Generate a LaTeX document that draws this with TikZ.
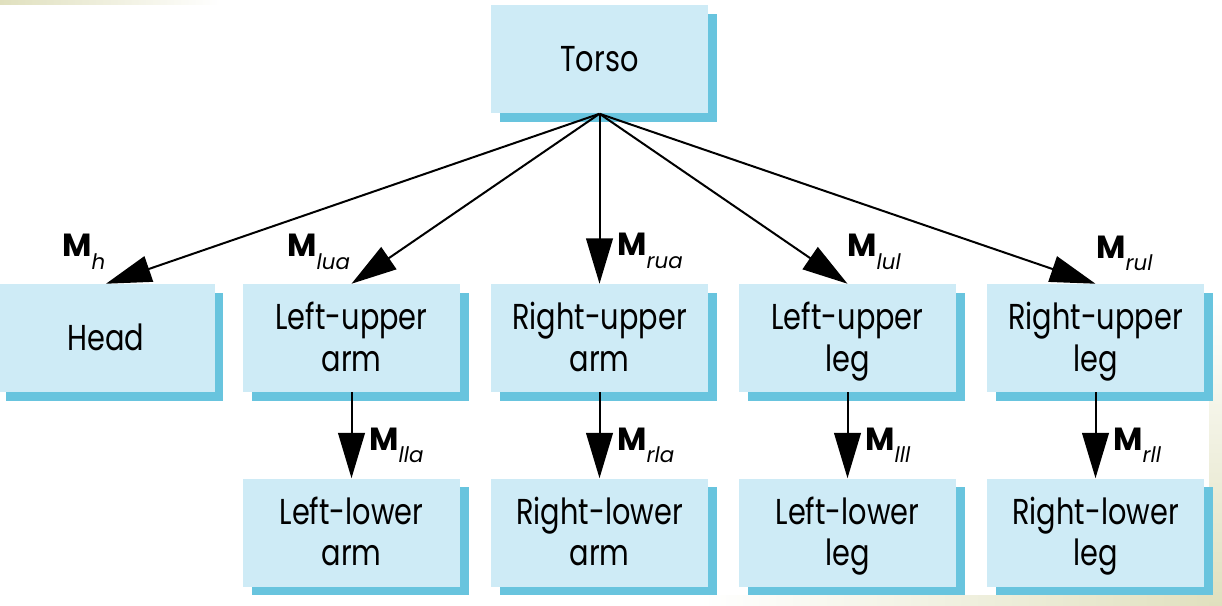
\documentclass[tikz,border=0pt]{standalone}
\usepackage{fontspec}
\usepackage{xcolor}
\usepackage{tikz}
\usetikzlibrary{arrows.meta,shadows}
\setmainfont{Poppins}[FakeStretch=0.8]
\newfontfamily\matfont{Poppins}
\definecolor{partfill}{RGB}{206,235,246}
\definecolor{partshadow}{RGB}{104,196,222}
\definecolor{bgbeige}{RGB}{224,224,190}
\newcommand{\tmat}[1]{{\matfont\fontsize{24}{25}\selectfont\bfseries M}\raisebox{-9.5pt}{\matfont\fontsize{16}{17}\selectfont\itshape #1}}
\newcommand{\tall}{\rule{0pt}{26pt}}
\tikzset{
  part/.style={fill=partfill, minimum width=162.75pt, minimum height=81pt, inner sep=0pt, align=center,
    font=\fontsize{27}{31}\selectfont, execute at end node={\vphantom{g}},
    drop shadow={shadow xshift=6.5pt, shadow yshift=-6.5pt, fill=partshadow, opacity=1}},
  link/.style={line width=1.5pt, -{Triangle[length=34pt,width=20pt]}},
  matlabel/.style={inner sep=0pt, anchor=base west}
}
\begin{document}
\begin{tikzpicture}[x=0.75pt,y=0.75pt,yscale=-1,xscale=1]
\useasboundingbox (0,0) rectangle (1222,606);
%background edges
\shade [left color=bgbeige, right color=white] (0,0) rectangle (220,5);
\shade [left color=white, right color=bgbeige] (700,595) rectangle (1222,606);
\shade [top color=white, bottom color=bgbeige] (1209,300) rectangle (1222,606);

% Parts
\node [part] (torso) at (599.5,59.5) {\tall Torso};
\node [part] (head) at (106,338) {\tall Head};
\node [part] (lua) at (351.5,338) {\tall Left-upper\\arm};
\node [part] (rua) at (599.5,338) {\tall Right-upper\\arm};
\node [part] (lul) at (847.5,338) {\tall Left-upper\\leg};
\node [part] (rul) at (1095.5,338) {\tall Right-upper\\leg};
\node [part] (lla) at (351.5,532.5) {\tall Left-lower\\arm};
\node [part] (rla) at (599.5,532.5) {\tall Right-lower\\arm};
\node [part] (lll) at (847.5,532.5) {\tall Left-lower\\leg};
\node [part] (rll) at (1095.5,532.5) {\tall Right-lower\\leg};

% Links
\draw [link] (torso.south) -- (head.north);
\draw [link] (torso.south) -- (lua.north);
\draw [link] (torso.south) -- (rua.north);
\draw [link] (torso.south) -- (lul.north);
\draw [link] (torso.south) -- (rul.north);
\draw [link] (lua.south) -- (lla.north);
\draw [link] (rua.south) -- (rla.north);
\draw [link] (lul.south) -- (lll.north);
\draw [link] (rul.south) -- (rll.north);

% Matrix labels
\node [matlabel] (mh) at (62,257) {\tmat{h}};
\node [matlabel] (mlua) at (287,257) {\tmat{lua}};
\node [matlabel] (mrua) at (617,256) {\tmat{rua}};
\node [matlabel] (mlul) at (847,257) {\tmat{lul}};
\node [matlabel] (mrul) at (1096,258) {\tmat{rul}};
\node [matlabel] (mlla) at (369,450) {\tmat{lla}};
\node [matlabel] (mrla) at (617,450) {\tmat{rla}};
\node [matlabel] (mlll) at (865,450) {\tmat{lll}};
\node [matlabel] (mrll) at (1113,450) {\tmat{rll}};
\end{tikzpicture}
\end{document}
